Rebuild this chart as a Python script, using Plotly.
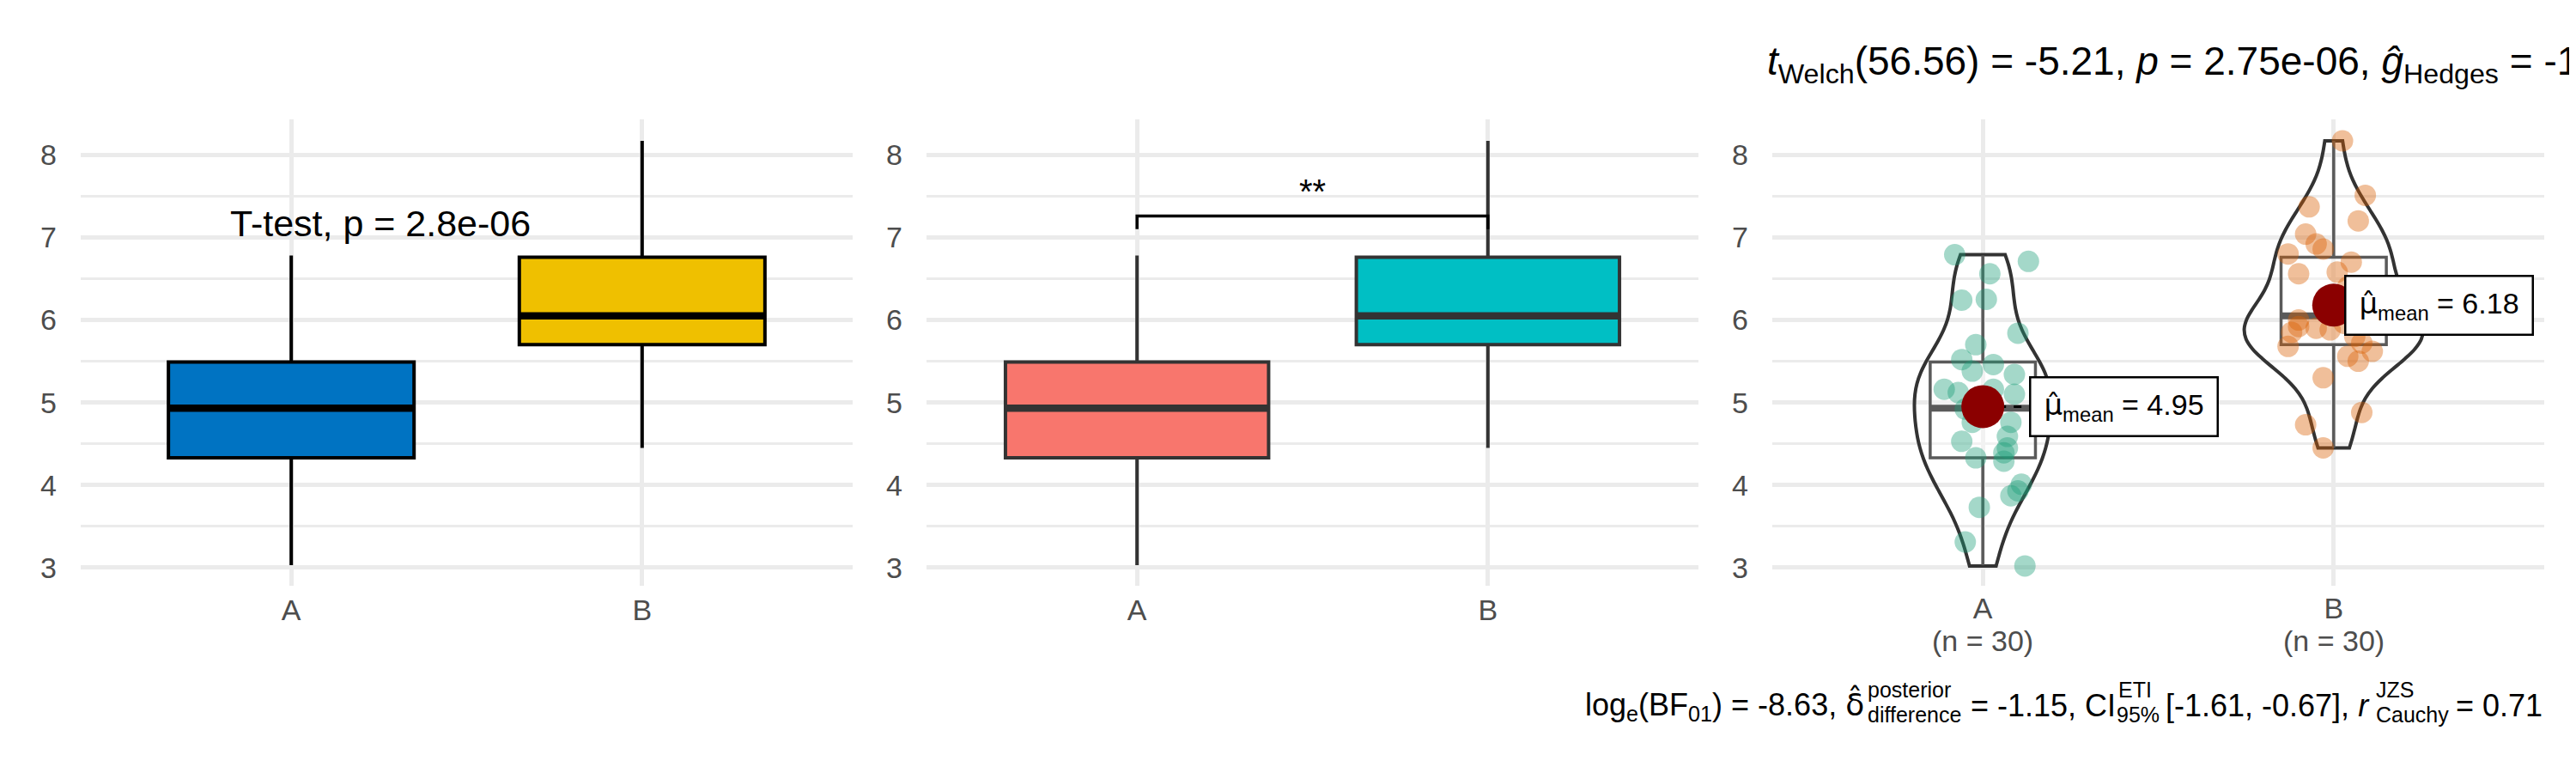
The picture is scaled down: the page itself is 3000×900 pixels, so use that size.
import numpy as np
import plotly.graph_objects as go

# ---------------- data ----------------
groups = ["A", "B"]
group_x = [1, 2]
n_obs = [30, 30]

# box statistics
q1 = [4.33, 5.70]
median = [4.93, 6.05]
q3 = [5.49, 6.76]
lower_whisker = [3.03, 4.45]
upper_whisker = [6.78, 8.17]

# group means shown in the labels
means = [4.95, 6.18]
mean_labels = ["4.95", "6.18"]

# raw observations (jittered points in the third panel)
a_values = [6.79, 6.71, 6.56, 6.24, 6.25, 5.84, 5.70, 5.52, 5.46, 5.38,
            5.34, 5.16, 5.12, 5.16, 5.10, 4.76, 4.76, 4.53, 4.59, 4.45,
            4.39, 4.33, 4.29, 4.01, 3.93, 3.87, 3.73, 3.31, 3.02, 4.92]
a_jitter = [-0.08, 0.13, 0.02, -0.06, 0.01, 0.10, -0.02, -0.06, 0.03, -0.03,
            0.09, -0.11, -0.07, 0.03, 0.09, -0.03, 0.08, -0.06, 0.07, 0.07,
            0.06, -0.02, 0.06, 0.11, 0.10, 0.08, -0.01, -0.05, 0.12, -0.05]
b_values = [8.17, 7.51, 7.37, 7.20, 6.92, 6.86, 6.80, 6.70, 6.56, 6.58,
            6.40, 5.92, 5.90, 5.88, 5.80, 5.72, 5.68, 5.62, 5.56, 5.50,
            5.30, 4.88, 4.73, 4.45, 6.00, 6.10, 6.16, 5.96, 7.04, 5.85]
b_jitter = [0.025, 0.09, -0.07, 0.07, -0.05, -0.03, -0.13, 0.05, -0.10, 0.01,
            0.04, -0.10, -0.05, -0.01, 0.06, 0.08, -0.13, 0.11, 0.04, 0.07,
            -0.03, 0.08, -0.08, -0.03, -0.10, 0.02, -0.02, 0.03, -0.08, -0.12]

y_ticks = [3, 4, 5, 6, 7, 8]
y_minor = [3.5, 4.5, 5.5, 6.5, 7.5]

p1_label = "T-test, p = 2.8e-06"
p2_label = "**"

# ---------------- styling ----------------
FONT = "Liberation Sans, Arial, sans-serif"
MARKFONT = "font-family:'DejaVu Sans'"
W, H = 3000, 900
colors_p1 = ["#0073C2", "#EFC000"]
colors_p2 = ["#F8766D", "#00BFC4"]
colors_p3 = ["#1B9E77", "#D95F02"]
grid_col = "#EBEBEB"
tick_col = "#4D4D4D"

panel_px = [(86, 985), (1071, 1970), (2056, 2955)]
plot_top, plot_bottom = 131, 674
y_range = [2.78, 8.43]
x_range = [0.4, 2.6]

title_text = ("<i>t</i><sub>Welch</sub>(56.56) = -5.21, <i>p</i> = 2.75e-06, "
              "<i>ĝ</i><sub>Hedges</sub> = -1.33")


def px_x(p):
    return p / W


def px_y(p):
    return 1 - p / H


def hat(ch):
    return f"<span style=\"{MARKFONT}\">{ch}\u0302</span>"


fig = go.Figure()


def add_box(ax, ay, i, width, fill, line_col, line_w, med_w):
    fig.add_trace(go.Box(
        x=[group_x[i]], q1=[q1[i]], median=[median[i]], q3=[q3[i]],
        lowerfence=[lower_whisker[i]], upperfence=[upper_whisker[i]],
        width=width, fillcolor=fill, line=dict(color=line_col, width=line_w),
        whiskerwidth=0, boxpoints=False, xaxis=ax, yaxis=ay,
        showlegend=False, hoverinfo="skip"))
    fig.add_trace(go.Scatter(
        x=[group_x[i] - width / 2, group_x[i] + width / 2],
        y=[median[i], median[i]], mode="lines",
        line=dict(color=line_col, width=med_w),
        xaxis=ax, yaxis=ay, showlegend=False, hoverinfo="skip"))


# Panel 1 (ggpubr style)
for i in range(2):
    add_box("x", "y", i, 0.70, colors_p1[i], "#000000", 4, 8.5)

# Panel 2 (ggplot default)
for i in range(2):
    add_box("x2", "y2", i, 0.75, colors_p2[i], "#333333", 4, 8.5)

bracket_y, bracket_tip = 7.26, 0.16
fig.add_trace(go.Scatter(
    x=[group_x[0], group_x[0], group_x[1], group_x[1]],
    y=[bracket_y - bracket_tip, bracket_y, bracket_y, bracket_y - bracket_tip],
    mode="lines", line=dict(color="#000000", width=3.5),
    xaxis="x2", yaxis="y2", showlegend=False, hoverinfo="skip"))

# Panel 3 (ggstatsplot style)
values = [a_values, b_values]
jitters = [a_jitter, b_jitter]
violin_w = [0.39, 0.51]
for i in range(2):
    v = np.array(values[i])
    iqr = np.subtract(*np.percentile(v, [75, 25]))
    bw = 0.9 * min(v.std(ddof=1), iqr / 1.34) * len(v) ** -0.2
    fig.add_trace(go.Violin(
        x=[group_x[i]] * len(v), y=v, width=violin_w[i], spanmode="hard",
        bandwidth=bw, points=False, fillcolor="rgba(255,255,255,0)",
        line=dict(color="#333333", width=4), xaxis="x3", yaxis="y3",
        showlegend=False, hoverinfo="skip"))
for i in range(2):
    add_box("x3", "y3", i, 0.30, "rgba(255,255,255,0.35)", "#5A5A5A", 3.5, 8)
for i in range(2):
    fig.add_trace(go.Scatter(
        x=[group_x[i] + j for j in jitters[i]], y=values[i], mode="markers",
        marker=dict(size=25, color=colors_p3[i], opacity=0.4, line=dict(width=0)),
        xaxis="x3", yaxis="y3", showlegend=False, hoverinfo="skip"))

label_dx = [0.132, 0.03]
for i in range(2):
    fig.add_trace(go.Scatter(
        x=[group_x[i], group_x[i] + label_dx[i]], y=[means[i], means[i]],
        mode="lines", line=dict(color="#000000", width=3, dash="dash"),
        xaxis="x3", yaxis="y3", showlegend=False, hoverinfo="skip"))
fig.add_trace(go.Scatter(
    x=group_x, y=means, mode="markers",
    marker=dict(size=50, color="#8B0000", line=dict(width=0)),
    xaxis="x3", yaxis="y3", showlegend=False, hoverinfo="skip"))

annotations = []
for i in range(2):
    annotations.append(dict(
        x=group_x[i] + label_dx[i], y=means[i], xref="x3", yref="y3",
        xanchor="left", yanchor="middle", showarrow=False,
        text=hat("μ") + "<sub>mean</sub> = " + mean_labels[i],
        font=dict(family=FONT, size=34, color="#000000"),
        bgcolor="#FFFFFF", bordercolor="#000000", borderwidth=2.5,
        borderpad=5, width=206, height=56, align="center"))
    # sample-size line under the category labels of the third panel
    annotations.append(dict(
        x=group_x[i], y=px_y(738), xref="x3", yref="paper",
        xanchor="center", yanchor="middle", showarrow=False,
        text=f"(n = {n_obs[i]})",
        font=dict(family=FONT, size=34, color=tick_col)))

annotations.append(dict(
    x=0.821, y=7.17, xref="x", yref="y", xanchor="left", yanchor="middle",
    showarrow=False, text=p1_label,
    font=dict(family=FONT, size=43, color="#000000")))
annotations.append(dict(
    x=(group_x[0] + group_x[1]) / 2, y=7.56, xref="x2", yref="y2",
    xanchor="center", yanchor="middle", showarrow=False, text=p2_label,
    font=dict(family=FONT, size=40, color="#000000")))

annotations.append(dict(
    x=px_x(2048), y=px_y(67), xref="paper", yref="paper",
    xanchor="left", yanchor="middle", showarrow=False, text=title_text,
    font=dict(family=FONT, size=46, color="#000000")))

# caption, built in pieces so the scripts can be stacked
main_fs, script_fs = 36, 25
cap_pieces = [
    (1836, 813, "log<sub>e</sub>(BF<sub>01</sub>) = -8.63, " + hat("δ"), main_fs),
    (2165, 795, "posterior", script_fs),
    (2165, 824, "difference", script_fs),
    (2285, 813, "= -1.15, CI", main_fs),
    (2457, 795, "ETI", script_fs),
    (2455, 824, "95%", script_fs),
    (2512, 813, "[-1.61, -0.67], <i>r</i>", main_fs),
    (2757, 795, "JZS", script_fs),
    (2757, 824, "Cauchy", script_fs),
    (2850, 813, "= 0.71", main_fs),
]
for px, py, txt, fs in cap_pieces:
    annotations.append(dict(
        x=px_x(px), y=px_y(py), xref="paper", yref="paper",
        xanchor="left", yanchor="middle", showarrow=False, text=txt,
        font=dict(family=FONT, size=fs, color="#000000")))

layout = dict(
    width=W, height=H, margin=dict(l=0, r=0, t=0, b=0),
    paper_bgcolor="#FFFFFF", plot_bgcolor="#FFFFFF",
    font=dict(family=FONT, color=tick_col),
    showlegend=False, annotations=annotations,
    boxmode="overlay", violinmode="overlay",
)

for k in range(3):
    sfx = "" if k == 0 else str(k + 1)
    layout["xaxis" + sfx] = dict(
        domain=[px_x(panel_px[k][0]), px_x(panel_px[k][1])],
        anchor="y" + sfx, range=x_range, tickvals=group_x, ticktext=groups,
        showgrid=True, gridcolor=grid_col, gridwidth=4.5, zeroline=False,
        showline=False, ticks="", ticklabelstandoff=3 if k == 2 else 5,
        tickfont=dict(family=FONT, size=34, color=tick_col))
    layout["yaxis" + sfx] = dict(
        domain=[px_y(plot_bottom), px_y(plot_top)],
        anchor="x" + sfx, range=y_range, tickvals=y_ticks,
        showgrid=True, gridcolor=grid_col, gridwidth=4.5, zeroline=False,
        showline=False, ticks="", ticklabelstandoff=27,
        minor=dict(tickvals=y_minor, showgrid=True, gridcolor=grid_col,
                   gridwidth=2.5),
        tickfont=dict(family=FONT, size=34, color=tick_col))

fig.update_layout(**layout)
fig.write_html("out.html")
